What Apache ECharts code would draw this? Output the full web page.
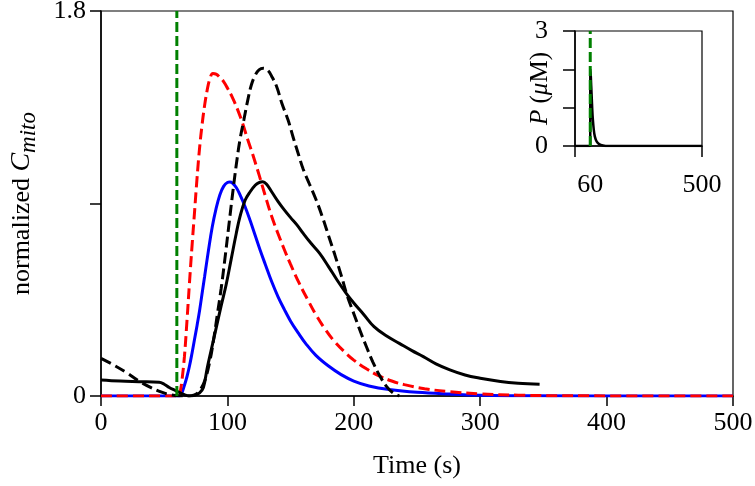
<!DOCTYPE html>
<html>
<head>
<meta charset="utf-8">
<script src="https://cdn.jsdelivr.net/npm/echarts@6/dist/echarts.min.js"></script>
<style>html,body{margin:0;padding:0;background:#fff;}#c{width:755px;height:486px;}</style>
</head>
<body>
<div id="c"></div>
<script>
// ---- Main panel data (time in s, normalized C_mito) ----
const blueT = [0, 62, 64, 66, 68, 70, 72, 74, 76, 78, 80, 82, 85, 88, 91, 94, 97, 100, 102, 104, 107, 110, 114, 118, 122, 126, 130, 135, 140, 145, 150, 156, 162, 170, 180, 190, 200, 212, 228, 250, 276, 300, 340, 500];
const blueY = [0, 0, 0.015, 0.05, 0.09, 0.14, 0.20, 0.265, 0.33, 0.40, 0.48, 0.56, 0.68, 0.79, 0.875, 0.94, 0.98, 0.998, 1.0, 0.995, 0.975, 0.94, 0.885, 0.82, 0.75, 0.68, 0.615, 0.535, 0.465, 0.405, 0.35, 0.295, 0.245, 0.19, 0.14, 0.10, 0.07, 0.047, 0.03, 0.017, 0.009, 0.004, 0.001, 0];

const redT = [0, 62, 63, 64, 66, 68, 70, 72, 74, 76, 78, 80, 82, 84, 86, 88.5, 91, 94, 97, 100, 104, 108, 112, 116, 120, 125, 130, 135, 140, 145, 150, 157, 164, 170, 177, 184, 192, 200, 210, 220, 230, 240, 256, 276, 300, 330, 370, 500];
const redY = [0, 0, 0.03, 0.07, 0.184, 0.35, 0.53, 0.70, 0.86, 1.02, 1.16, 1.27, 1.36, 1.43, 1.48, 1.508, 1.505, 1.49, 1.47, 1.44, 1.395, 1.34, 1.275, 1.20, 1.13, 1.035, 0.935, 0.84, 0.76, 0.685, 0.615, 0.525, 0.445, 0.38, 0.315, 0.26, 0.21, 0.168, 0.127, 0.094, 0.07, 0.053, 0.034, 0.02, 0.01, 0.004, 0.001, 0];

const blackDashT = [0, 10, 20, 30, 40, 48, 55, 62, 68, 74, 78, 82, 86, 89, 92, 95, 98, 101, 104, 107, 110, 113, 116, 119, 122, 125, 128.5, 132, 135, 139, 143, 148, 152, 156, 160, 165, 170, 175, 180, 185, 190, 195, 200, 205, 210, 215, 220, 226, 231, 236];
const blackDashY = [0.176, 0.145, 0.11, 0.07, 0.038, 0.018, 0.006, 0.001, 0, 0.005, 0.025, 0.07, 0.16, 0.26, 0.38, 0.5, 0.64, 0.79, 0.94, 1.08, 1.2, 1.29, 1.38, 1.455, 1.5, 1.525, 1.532, 1.522, 1.495, 1.446, 1.37, 1.29, 1.21, 1.134, 1.06, 0.99, 0.92, 0.84, 0.75, 0.66, 0.565, 0.465, 0.385, 0.305, 0.23, 0.16, 0.10, 0.044, 0.015, 0];

const blackSolidT = [0, 15, 30, 46, 50, 54, 58, 62, 66, 70, 74, 78, 81, 84, 87, 91, 95, 99, 103, 107, 110, 114, 118, 122, 125, 128, 131, 135, 140, 145, 150, 155, 160, 166, 173, 180, 187, 194, 200, 208, 216, 226, 236, 246, 255, 265, 276, 288, 300, 316, 330, 347];
const blackSolidY = [0.075, 0.07, 0.067, 0.064, 0.055, 0.04, 0.028, 0.017, 0.006, 0.0, 0.003, 0.015, 0.04, 0.13, 0.21, 0.315, 0.42, 0.52, 0.64, 0.76, 0.84, 0.915, 0.955, 0.985, 0.998, 1.002, 0.99, 0.955, 0.91, 0.87, 0.834, 0.80, 0.76, 0.715, 0.667, 0.605, 0.54, 0.48, 0.435, 0.38, 0.324, 0.28, 0.246, 0.212, 0.184, 0.15, 0.122, 0.098, 0.083, 0.068, 0.06, 0.055];

const stimT = [60, 60];
const stimY = [0, 1.8];

// ---- Inset data (time in s, P in uM) ----
const pT = [0, 60, 60.2, 62, 64, 66, 68, 70, 74, 78, 85, 95, 110, 130, 500];
const pY = [0, 0, 2.0, 1.85, 1.55, 1.25, 0.95, 0.72, 0.42, 0.25, 0.12, 0.05, 0.015, 0, 0];
const pStimT = [60, 60];
const pStimY = [0, 3];

// ---- Axis ticks ----
const mainXTicks = [0, 100, 200, 300, 400, 500];
const mainYLabels = ['0', '1.8'];
const insetXLabels = [60, 500];
const insetYLabels = ['0', '3'];

const zip = (a, b) => a.map((v, i) => [v, b[i]]);
const FONT = '"Liberation Serif", "DejaVu Serif", serif';

const chart = echarts.init(document.getElementById('c'), null, {renderer: 'canvas'});

const axisLine = {show: true, lineStyle: {color: '#000', width: 1.5}};

chart.setOption({
  animation: false,
  backgroundColor: '#fff',
  grid: [
    {left: 101, right: 22, top: 11, bottom: 90, show: true, borderColor: '#000', borderWidth: 1.2, backgroundColor: 'transparent', outerBoundsMode: 'none', containLabel: false},
    {left: 575, right: 53, top: 31, bottom: 340, show: true, borderColor: '#000', borderWidth: 1.2, backgroundColor: '#fff', outerBoundsMode: 'none', containLabel: false}
  ],
  xAxis: [
    {
      gridIndex: 0, type: 'value', min: 0, max: 500, interval: 100,
      axisLine: axisLine,
      axisTick: {show: true, length: 10, lineStyle: {color: '#000', width: 1.5}},
      splitLine: {show: false},
      axisLabel: {fontFamily: FONT, fontSize: 26, color: '#000', margin: 14,
        formatter: v => mainXTicks.includes(v) ? String(v) : ''},
      name: 'Time (s)', nameLocation: 'middle', nameGap: 57, nameMoveOverlap: false,
      nameTextStyle: {fontFamily: FONT, fontSize: 26, color: '#000'}
    },
    {
      gridIndex: 1, type: 'value', min: 0, max: 500,
      axisLine: axisLine,
      axisTick: {show: true, length: 11, customValues: [0, 500], lineStyle: {color: '#000', width: 1.5}},
      splitLine: {show: false},
      axisLabel: {fontFamily: FONT, fontSize: 26, color: '#000', margin: 26, customValues: insetXLabels}
    }
  ],
  yAxis: [
    {
      gridIndex: 0, type: 'value', min: 0, max: 1.8, interval: 0.9,
      axisLine: axisLine,
      axisTick: {show: true, length: 11, lineStyle: {color: '#000', width: 1.5}},
      splitLine: {show: false},
      axisLabel: {fontFamily: FONT, fontSize: 26, color: '#000', margin: 15,
        formatter: v => { const s = String(Math.round(v * 10) / 10); return mainYLabels.includes(s) ? s : ''; }},
      name: '{n|normalized }{c|C}{s|mito}', nameLocation: 'middle', nameGap: 61, nameRotate: 90, nameMoveOverlap: false,
      nameTextStyle: {
        fontFamily: FONT, fontSize: 26, color: '#000', lineHeight: 36,
        rich: {
          n: {fontFamily: FONT, fontSize: 26, color: '#000', lineHeight: 36},
          c: {fontFamily: FONT, fontSize: 28, fontStyle: 'italic', color: '#000', lineHeight: 36},
          s: {fontFamily: FONT, fontSize: 23, fontStyle: 'italic', color: '#000', lineHeight: 24, verticalAlign: 'bottom'}
        }
      }
    },
    {
      gridIndex: 1, type: 'value', min: 0, max: 3, interval: 1,
      axisLine: axisLine,
      axisTick: {show: true, length: 12, lineStyle: {color: '#000', width: 1.5}},
      splitLine: {show: false},
      axisLabel: {fontFamily: FONT, fontSize: 26, color: '#000', margin: 27,
        formatter: v => insetYLabels.includes(String(v)) ? String(v) : ''},
      name: '{i|P} {n|(}{i|μ}{n|M)}', nameLocation: 'middle', nameGap: 22, nameRotate: 90, nameMoveOverlap: false,
      nameTextStyle: {
        fontFamily: FONT, fontSize: 25, color: '#000',
        rich: {
          i: {fontFamily: FONT, fontSize: 25, fontStyle: 'italic', color: '#000'},
          n: {fontFamily: FONT, fontSize: 25, color: '#000'}
        }
      }
    }
  ],
  series: [
    {type: 'line', xAxisIndex: 0, yAxisIndex: 0, data: zip(blueT, blueY), showSymbol: false, smooth: 0.4,
      lineStyle: {color: '#0000ff', width: 3}, z: 2},
    {type: 'line', xAxisIndex: 0, yAxisIndex: 0, data: zip(redT, redY), showSymbol: false, smooth: 0.4,
      lineStyle: {color: '#ff0000', width: 3, type: [11, 5]}, z: 3},
    {type: 'line', xAxisIndex: 0, yAxisIndex: 0, data: zip(blackSolidT, blackSolidY), showSymbol: false, smooth: 0.4,
      lineStyle: {color: '#000', width: 3}, z: 4},
    {type: 'line', xAxisIndex: 0, yAxisIndex: 0, data: zip(blackDashT, blackDashY), showSymbol: false, smooth: 0.4,
      lineStyle: {color: '#000', width: 3, type: [11, 5]}, z: 5},
    {type: 'line', xAxisIndex: 0, yAxisIndex: 0, data: zip(stimT, stimY), showSymbol: false,
      lineStyle: {color: '#008000', width: 3, type: [10, 4]}, z: 6},
    {type: 'line', xAxisIndex: 1, yAxisIndex: 1, data: zip(pT, pY), showSymbol: false, smooth: 0.3,
      lineStyle: {color: '#000', width: 2.5}, z: 4},
    {type: 'line', xAxisIndex: 1, yAxisIndex: 1, data: zip(pStimT, pStimY), showSymbol: false,
      lineStyle: {color: '#008000', width: 3, type: [10, 4]}, z: 6}
  ]
});
</script>
</body>
</html>
